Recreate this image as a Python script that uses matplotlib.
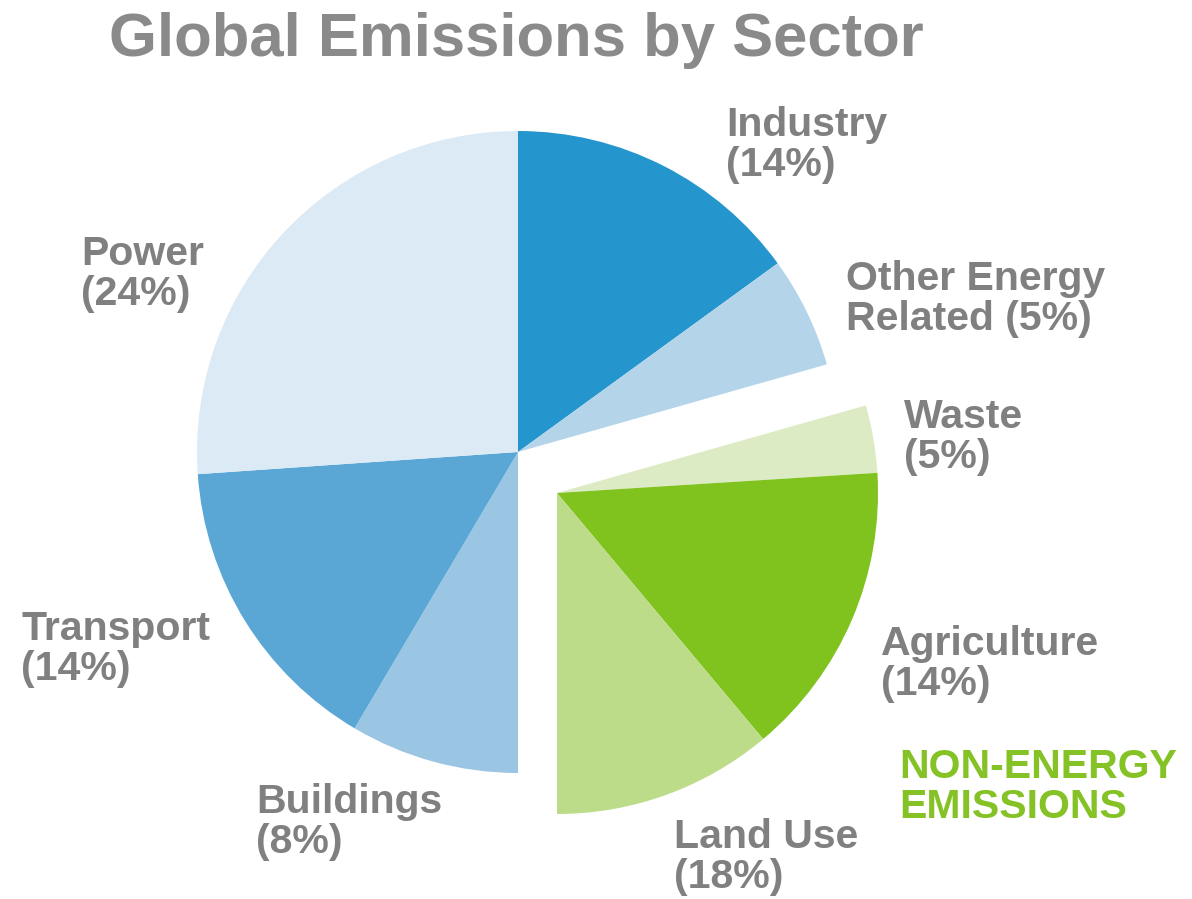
import matplotlib
matplotlib.use("Agg")
import matplotlib.pyplot as plt

# slices clockwise from 12 o'clock, shares as drawn (percent of circle)
sectors = ["Industry", "Other Energy", "Waste", "Agriculture",
           "Land Use", "Buildings", "Transport", "Power"]
shares = [15.0, 5.6, 3.4, 14.9, 11.1, 8.5, 15.4, 26.1]
label_pct = [14, 5, 5, 14, 18, 8, 14, 24]
non_energy = ["Waste", "Agriculture", "Land Use"]

colors = ["#2596cd", "#b4d4ea", "#dcebc4", "#80c21e",
          "#bcdc89", "#9ac6e3", "#5aa7d6", "#dbeaf5"]

gray = "#808080"
green = "#84c225"

W, H = 1192, 899
fig = plt.figure(figsize=(W / 100, H / 100), dpi=100)
ax = fig.add_axes([0, 0, 1, 1])

center = (518, H - 452)
group_center = (557, H - 493)
radius = 321

wedges, _ = ax.pie(shares, startangle=90, counterclock=False, colors=colors,
                   center=center, radius=radius,
                   wedgeprops=dict(linewidth=0, antialiased=True))
for w, name in zip(wedges, sectors):
    if name in non_energy:
        w.set_center(group_center)

ax.set_xlim(0, W)
ax.set_ylim(0, H)
ax.set_aspect("equal")
ax.axis("off")

font = "Liberation Sans"

# label text: (left x, top y) in pixels from top-left
labels = {
    "Industry": ("Industry\n(14%)", 726, 106),
    "Other Energy": ("Other Energy\nRelated (5%)", 846, 260),
    "Waste": ("Waste\n(5%)", 904, 398),
    "Agriculture": ("Agriculture\n(14%)", 881, 625),
    "Land Use": ("Land Use\n(18%)", 674, 818),
    "Buildings": ("Buildings\n(8%)", 256, 783),
    "Transport": ("Transport\n(14%)", 21, 610),
    "Power": ("Power\n(24%)", 81, 235),
}
for name, pct in zip(sectors, label_pct):
    txt, lx, ly = labels[name]
    ax.text(lx, H - ly, txt, ha="left", va="top", fontsize=29.5,
            fontweight="bold", color=gray, family=font, linespacing=1.08)

ax.text(899, H - 748, "NON-ENERGY\nEMISSIONS", ha="left", va="top",
        fontsize=29.5, fontweight="bold", color=green, family=font,
        linespacing=1.08)

ax.text(109, H - 12, "Global Emissions by Sector", ha="left", va="top",
        fontsize=44.4, fontweight="bold", color="#8a8a8a", family=font)

fig.savefig("out.png", dpi=100)
